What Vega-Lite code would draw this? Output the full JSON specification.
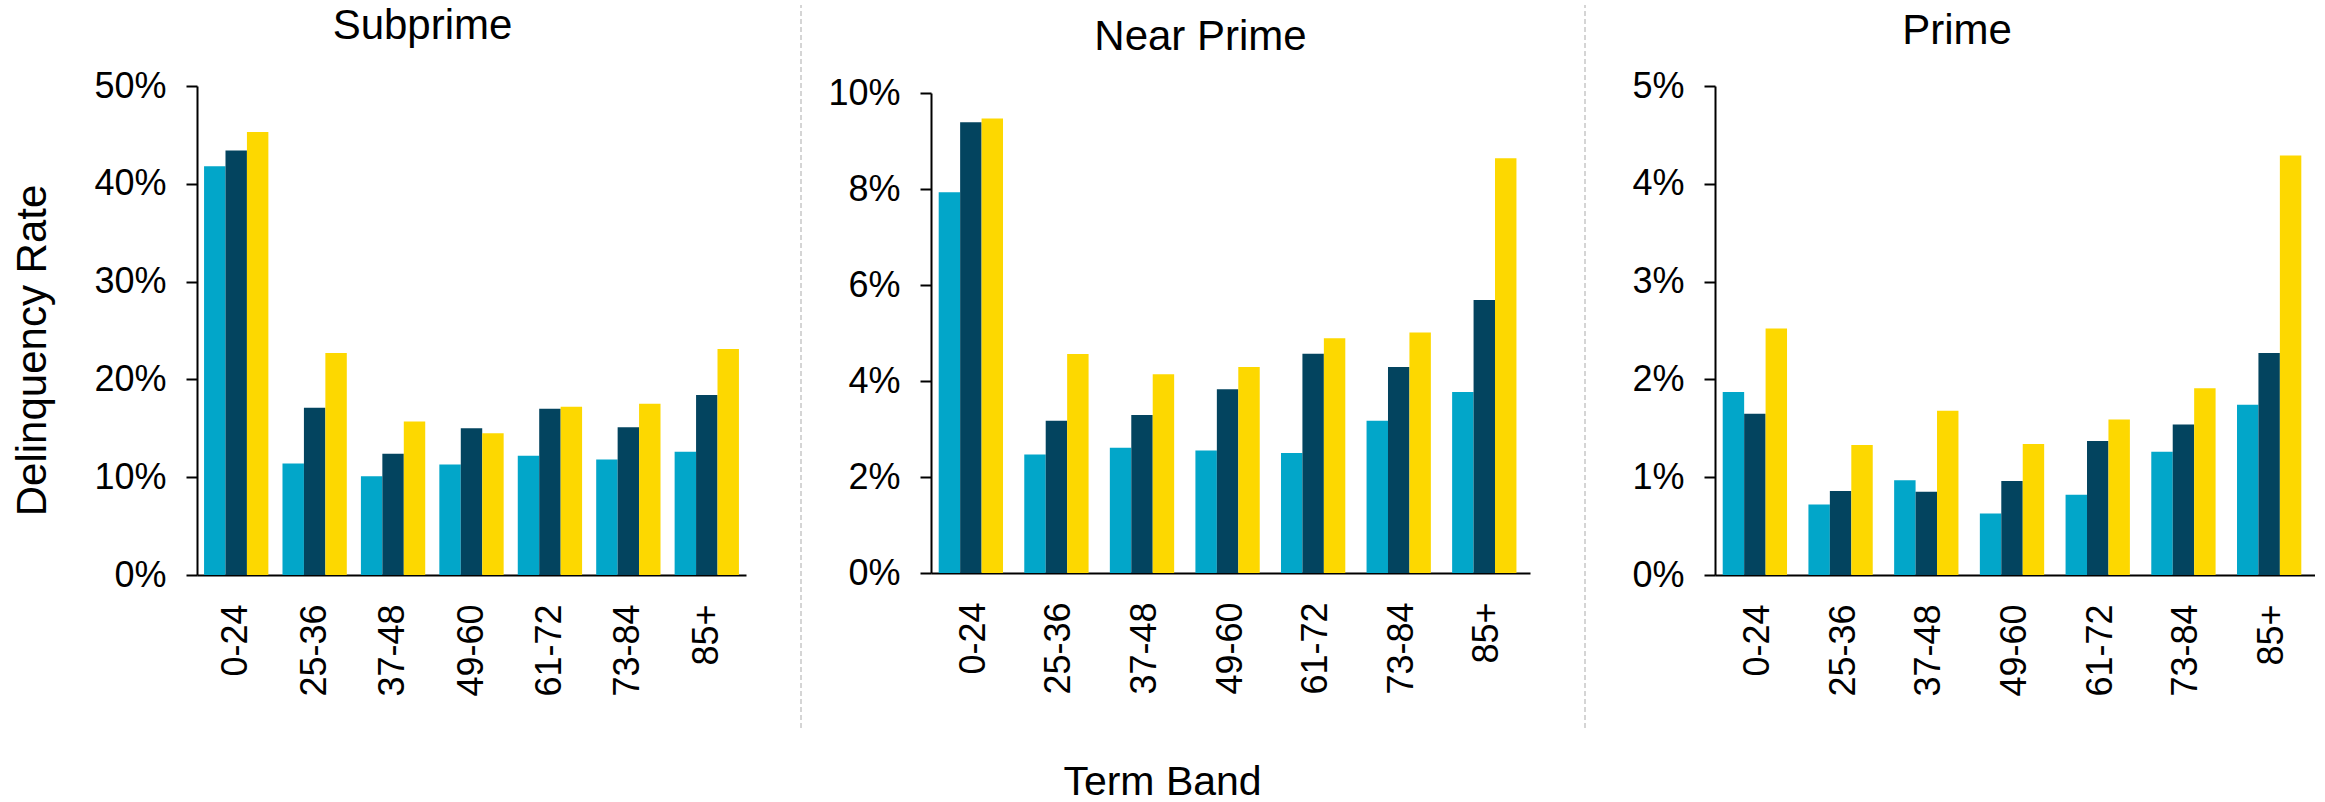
{
  "$schema": "https://vega.github.io/schema/vega-lite/v6.json",
  "padding": {"left": 11, "top": 4, "right": 0, "bottom": 0},
  "background": "white",
  "datasets": {
    "rates": [
      {"panel": "Subprime", "term": "0-24", "series": "Series 1", "rate": 0.418},
      {"panel": "Subprime", "term": "0-24", "series": "Series 2", "rate": 0.434},
      {"panel": "Subprime", "term": "0-24", "series": "Series 3", "rate": 0.453},
      {"panel": "Subprime", "term": "25-36", "series": "Series 1", "rate": 0.114},
      {"panel": "Subprime", "term": "25-36", "series": "Series 2", "rate": 0.171},
      {"panel": "Subprime", "term": "25-36", "series": "Series 3", "rate": 0.227},
      {"panel": "Subprime", "term": "37-48", "series": "Series 1", "rate": 0.101},
      {"panel": "Subprime", "term": "37-48", "series": "Series 2", "rate": 0.124},
      {"panel": "Subprime", "term": "37-48", "series": "Series 3", "rate": 0.157},
      {"panel": "Subprime", "term": "49-60", "series": "Series 1", "rate": 0.113},
      {"panel": "Subprime", "term": "49-60", "series": "Series 2", "rate": 0.150},
      {"panel": "Subprime", "term": "49-60", "series": "Series 3", "rate": 0.145},
      {"panel": "Subprime", "term": "61-72", "series": "Series 1", "rate": 0.122},
      {"panel": "Subprime", "term": "61-72", "series": "Series 2", "rate": 0.170},
      {"panel": "Subprime", "term": "61-72", "series": "Series 3", "rate": 0.172},
      {"panel": "Subprime", "term": "73-84", "series": "Series 1", "rate": 0.118},
      {"panel": "Subprime", "term": "73-84", "series": "Series 2", "rate": 0.151},
      {"panel": "Subprime", "term": "73-84", "series": "Series 3", "rate": 0.175},
      {"panel": "Subprime", "term": "85+", "series": "Series 1", "rate": 0.126},
      {"panel": "Subprime", "term": "85+", "series": "Series 2", "rate": 0.184},
      {"panel": "Subprime", "term": "85+", "series": "Series 3", "rate": 0.231},

      {"panel": "Near Prime", "term": "0-24", "series": "Series 1", "rate": 0.0793},
      {"panel": "Near Prime", "term": "0-24", "series": "Series 2", "rate": 0.0939},
      {"panel": "Near Prime", "term": "0-24", "series": "Series 3", "rate": 0.0947},
      {"panel": "Near Prime", "term": "25-36", "series": "Series 1", "rate": 0.0247},
      {"panel": "Near Prime", "term": "25-36", "series": "Series 2", "rate": 0.0317},
      {"panel": "Near Prime", "term": "25-36", "series": "Series 3", "rate": 0.0456},
      {"panel": "Near Prime", "term": "37-48", "series": "Series 1", "rate": 0.0261},
      {"panel": "Near Prime", "term": "37-48", "series": "Series 2", "rate": 0.0329},
      {"panel": "Near Prime", "term": "37-48", "series": "Series 3", "rate": 0.0414},
      {"panel": "Near Prime", "term": "49-60", "series": "Series 1", "rate": 0.0255},
      {"panel": "Near Prime", "term": "49-60", "series": "Series 2", "rate": 0.0383},
      {"panel": "Near Prime", "term": "49-60", "series": "Series 3", "rate": 0.0429},
      {"panel": "Near Prime", "term": "61-72", "series": "Series 1", "rate": 0.0250},
      {"panel": "Near Prime", "term": "61-72", "series": "Series 2", "rate": 0.0457},
      {"panel": "Near Prime", "term": "61-72", "series": "Series 3", "rate": 0.0489},
      {"panel": "Near Prime", "term": "73-84", "series": "Series 1", "rate": 0.0317},
      {"panel": "Near Prime", "term": "73-84", "series": "Series 2", "rate": 0.0429},
      {"panel": "Near Prime", "term": "73-84", "series": "Series 3", "rate": 0.0501},
      {"panel": "Near Prime", "term": "85+", "series": "Series 1", "rate": 0.0377},
      {"panel": "Near Prime", "term": "85+", "series": "Series 2", "rate": 0.0569},
      {"panel": "Near Prime", "term": "85+", "series": "Series 3", "rate": 0.0864},

      {"panel": "Prime", "term": "0-24", "series": "Series 1", "rate": 0.0187},
      {"panel": "Prime", "term": "0-24", "series": "Series 2", "rate": 0.0165},
      {"panel": "Prime", "term": "0-24", "series": "Series 3", "rate": 0.0252},
      {"panel": "Prime", "term": "25-36", "series": "Series 1", "rate": 0.0072},
      {"panel": "Prime", "term": "25-36", "series": "Series 2", "rate": 0.0086},
      {"panel": "Prime", "term": "25-36", "series": "Series 3", "rate": 0.0133},
      {"panel": "Prime", "term": "37-48", "series": "Series 1", "rate": 0.0097},
      {"panel": "Prime", "term": "37-48", "series": "Series 2", "rate": 0.0085},
      {"panel": "Prime", "term": "37-48", "series": "Series 3", "rate": 0.0168},
      {"panel": "Prime", "term": "49-60", "series": "Series 1", "rate": 0.0063},
      {"panel": "Prime", "term": "49-60", "series": "Series 2", "rate": 0.0096},
      {"panel": "Prime", "term": "49-60", "series": "Series 3", "rate": 0.0134},
      {"panel": "Prime", "term": "61-72", "series": "Series 1", "rate": 0.0082},
      {"panel": "Prime", "term": "61-72", "series": "Series 2", "rate": 0.0137},
      {"panel": "Prime", "term": "61-72", "series": "Series 3", "rate": 0.0159},
      {"panel": "Prime", "term": "73-84", "series": "Series 1", "rate": 0.0126},
      {"panel": "Prime", "term": "73-84", "series": "Series 2", "rate": 0.0154},
      {"panel": "Prime", "term": "73-84", "series": "Series 3", "rate": 0.0191},
      {"panel": "Prime", "term": "85+", "series": "Series 1", "rate": 0.0174},
      {"panel": "Prime", "term": "85+", "series": "Series 2", "rate": 0.0227},
      {"panel": "Prime", "term": "85+", "series": "Series 3", "rate": 0.0429}
    ]
  },
  "spacing": 55,
  "bounds": "flush",
  "hconcat": [
    {
      "width": 549,
      "height": 489,
      "data": {"name": "rates"},
      "transform": [{"filter": "datum.panel === 'Subprime'"}],
      "title": {"text": "Subprime", "dx": -49, "offset": 20.5},
      "mark": {"type": "bar"},
      "encoding": {
        "x": {"field": "term", "type": "nominal", "sort": null,
              "scale": {"paddingInner": 0.18, "paddingOuter": 0.09},
              "axis": {"title": null}},
        "xOffset": {"field": "series", "type": "nominal", "sort": null},
        "y": {"field": "rate", "type": "quantitative",
              "scale": {"domain": [0, 0.5], "nice": false},
              "axis": {"values": [0, 0.1, 0.2, 0.3, 0.4, 0.5], "format": ".0%",
                       "title": "Delinquency Rate", "titleX": -152, "titleY": 264,
                       "titleAlign": "center", "titleAngle": 270}},
        "color": {"field": "series", "type": "nominal", "legend": null,
                  "scale": {"domain": ["Series 1", "Series 2", "Series 3"], "range": ["#02A6C9", "#03445F", "#FDD800"]}}
      }
    },
    {
      "width": 75,
      "height": 489,
      "data": {"values": [{}]},
      "mark": {"type": "rule", "color": "#c8c8c8", "strokeWidth": 1.5, "strokeDash": [5, 3]},
      "encoding": {
        "x": {"datum": 0, "type": "quantitative", "scale": {"domain": [0, 1], "range": [0, 75]}, "axis": null},
        "y": {"datum": 0, "type": "quantitative", "scale": {"domain": [0, 1], "range": [642, -81]}, "axis": null},
        "y2": {"datum": 1}
      }
    },
    {
      "width": 599,
      "height": 487,
      "data": {"name": "rates"},
      "transform": [{"filter": "datum.panel === 'Near Prime'"}],
      "title": {"text": "Near Prime", "dx": -30, "offset": 16},
      "mark": {"type": "bar"},
      "encoding": {
        "x": {"field": "term", "type": "nominal", "sort": null,
              "scale": {"paddingInner": 0.18, "paddingOuter": 0.09},
              "axis": {"title": "Term Band", "titleX": 231, "titleY": 221, "titleAlign": "center", "titleFontSize": 41}},
        "xOffset": {"field": "series", "type": "nominal", "sort": null},
        "y": {"field": "rate", "type": "quantitative",
              "scale": {"domain": [0, 0.1], "nice": false, "range": [487, 7]},
              "axis": {"values": [0, 0.02, 0.04, 0.06, 0.08, 0.1], "format": ".0%", "title": null}},
        "color": {"field": "series", "type": "nominal", "legend": null,
                  "scale": {"domain": ["Series 1", "Series 2", "Series 3"], "range": ["#02A6C9", "#03445F", "#FDD800"]}}
      }
    },
    {
      "width": 75,
      "height": 489,
      "data": {"values": [{}]},
      "mark": {"type": "rule", "color": "#c8c8c8", "strokeWidth": 1.5, "strokeDash": [5, 3]},
      "encoding": {
        "x": {"datum": 0, "type": "quantitative", "scale": {"domain": [0, 1], "range": [0, 75]}, "axis": null},
        "y": {"datum": 0, "type": "quantitative", "scale": {"domain": [0, 1], "range": [642, -81]}, "axis": null},
        "y2": {"datum": 1}
      }
    },
    {
      "width": 600,
      "height": 489,
      "data": {"name": "rates"},
      "transform": [{"filter": "datum.panel === 'Prime'"}],
      "title": {"text": "Prime", "dx": -58, "offset": 15},
      "mark": {"type": "bar"},
      "encoding": {
        "x": {"field": "term", "type": "nominal", "sort": null,
              "scale": {"paddingInner": 0.18, "paddingOuter": 0.09},
              "axis": {"title": null}},
        "xOffset": {"field": "series", "type": "nominal", "sort": null},
        "y": {"field": "rate", "type": "quantitative",
              "scale": {"domain": [0, 0.05], "nice": false},
              "axis": {"values": [0, 0.01, 0.02, 0.03, 0.04, 0.05], "format": ".0%", "title": null}},
        "color": {"field": "series", "type": "nominal", "legend": null,
                  "scale": {"domain": ["Series 1", "Series 2", "Series 3"], "range": ["#02A6C9", "#03445F", "#FDD800"]}}
      }
    }
  ],
  "config": {
    "font": "Liberation Sans",
    "view": {"stroke": null},
    "title": {"fontSize": 42, "fontWeight": "normal", "color": "black", "frame": "group", "baseline": "alphabetic", "anchor": "middle"},
    "axis": {
      "labelFont": "Liberation Sans", "labelFontSize": 36, "labelColor": "black",
      "domainColor": "black", "domainWidth": 2,
      "tickColor": "black", "tickWidth": 2, "grid": false,
      "titleFont": "Liberation Sans", "titleFontSize": 42, "titleFontWeight": "normal", "titleColor": "black",
      "titleBaseline": "alphabetic"
    },
    "axisY": {"tickSize": 11, "labelPadding": 20},
    "axisX": {"ticks": false, "tickSize": 0, "labelAngle": -90, "labelPadding": 29}
  }
}
